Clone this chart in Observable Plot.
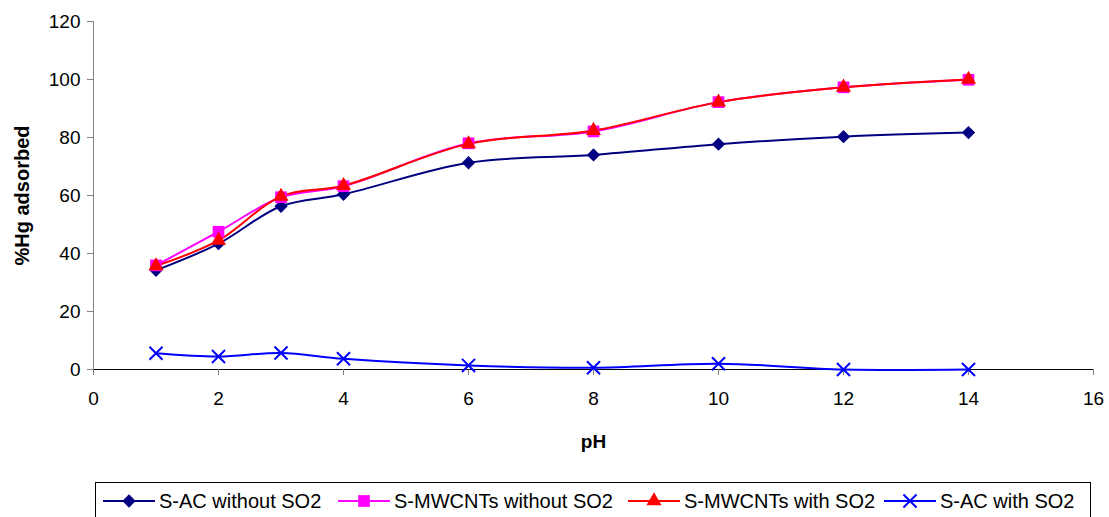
<!DOCTYPE html>
<html>
<head>
<meta charset="utf-8">
<script src="https://cdn.jsdelivr.net/npm/d3@7"></script>
<script src="https://cdn.jsdelivr.net/npm/@observablehq/plot@0.6"></script>
<style>
  body { margin: 0; background: #fff; }
  #wrap { position: relative; width: 1109px; height: 517px; overflow: hidden; font-family: "Liberation Sans", Arial, sans-serif; background: #fff; }
  #chart { position: absolute; left: 0; top: 0; }
  #legend { position: absolute; left: 95px; top: 482px; width: 996px; height: 40px; border: 1px solid #000; box-sizing: border-box; }
  .entry { position: absolute; top: 6px; display: flex; align-items: center; height: 24px; white-space: nowrap; }
  .entry span { font-size: 20px; color: #000; margin-left: 4px; line-height: 24px; }
</style>
</head>
<body>
<div id="wrap">
  <div id="chart"></div>
  <div id="legend"></div>
</div>
<script>
// ---- data ----
const pH = [1, 2, 3, 4, 6, 8, 10, 12, 14];
const sacWithoutSO2    = [34.2, 43.4, 56.3, 60.4, 71.3, 74.0, 77.7, 80.3, 81.7];
const mwcntsWithoutSO2 = [35.9, 47.5, 59.4, 63.2, 78.0, 82.1, 92.2, 97.3, 99.9];
const mwcntsWithSO2    = [35.7, 44.5, 59.7, 63.4, 77.8, 82.4, 92.2, 97.3, 100.0];
const sacWithSO2       = [5.6, 4.5, 5.7, 3.7, 1.4, 0.6, 2.0, 0.0, 0.0];
const seriesNames   = ["S-AC without SO2", "S-MWCNTs without SO2", "S-MWCNTs with SO2", "S-AC with SO2"];
const seriesValues  = [sacWithoutSO2, mwcntsWithoutSO2, mwcntsWithSO2, sacWithSO2];
const seriesColors  = ["#000080", "#FF00FF", "#FF0000", "#0000FF"];
const seriesSymbols = ["diamond2", "square", "triangle", "times"];
const xTicks = [0, 2, 4, 6, 8, 10, 12, 14, 16];
const yTicks = [0, 20, 40, 60, 80, 100, 120];
const xLabel = "pH";
const yLabel = "%Hg adsorbed";

// ---- build ----
const series = seriesNames.map((name, k) => ({
  name, color: seriesColors[k], symbol: seriesSymbols[k],
  rows: pH.map((x, i) => ({x, y: seriesValues[k][i]}))
}));
const markR = {diamond2: 6, square: 6.6, triangle: 5.6, times: 6};

const marks = [
  Plot.ruleY([0], {stroke: "#000", strokeWidth: 1}),
  Plot.ruleX([0], {stroke: "#808080", strokeWidth: 1}),
  Plot.axisY({ticks: yTicks, tickSize: 6, tickPadding: 7, label: null, fontSize: 19, stroke: "#808080", fill: "#000"}),
  Plot.axisX({ticks: xTicks, tickSize: 6, tickPadding: 16, label: null, fontSize: 19, stroke: "#808080", fill: "#000"}),
];
for (const s of series) {
  marks.push(Plot.line(s.rows, {x: "x", y: "y", stroke: s.color, strokeWidth: 2, curve: "catmull-rom"}));
}
for (const s of series) {
  const isStroke = s.symbol === "times";
  marks.push(Plot.dot(s.rows, {
    x: "x", y: "y", symbol: () => s.symbol, r: markR[s.symbol],
    fill: isStroke ? "none" : s.color, stroke: isStroke ? s.color : "none", strokeWidth: 2
  }));
}
marks.push(Plot.text([xLabel], {frameAnchor: "bottom", dy: 78, lineAnchor: "bottom", textAnchor: "middle", fontSize: 19, fontWeight: "bold", fill: "#000"}));
marks.push(Plot.text([yLabel], {frameAnchor: "left", dx: -65, rotate: -90, lineAnchor: "bottom", textAnchor: "middle", fontSize: 20, fontWeight: "bold", fill: "#000"}));

const chart = Plot.plot({
  width: 1109, height: 470,
  marginLeft: 93, marginRight: 16, marginTop: 21, marginBottom: 101,
  x: {domain: [0, 16]},
  y: {domain: [0, 120]},
  symbol: {type: "identity"},
  style: {fontFamily: "'Liberation Sans', Arial, sans-serif", fontSize: "19px", background: "white", color: "#000"},
  marks
});
document.getElementById("chart").appendChild(chart);

// ---- legend ----
const legend = document.getElementById("legend");
const entryLeft = [7, 242, 532, 788];
const symMap = {diamond2: d3.symbolDiamond2, square: d3.symbolSquare, triangle: d3.symbolTriangle, times: d3.symbolTimes};
series.forEach((s, k) => {
  const div = document.createElement("div");
  div.className = "entry";
  div.style.left = entryLeft[k] + "px";
  const r = markR[s.symbol];
  const path = d3.symbol(symMap[s.symbol], Math.PI * r * r)();
  const isStroke = s.symbol === "times";
  div.innerHTML = `<svg width="52" height="24"><line x1="0" x2="52" y1="12" y2="12" stroke="${s.color}" stroke-width="2"/>` +
    `<path transform="translate(26,12)" d="${path}" fill="${isStroke ? "none" : s.color}" stroke="${isStroke ? s.color : "none"}" stroke-width="2"/></svg>` +
    `<span>${s.name}</span>`;
  legend.appendChild(div);
});
</script>
</body>
</html>
